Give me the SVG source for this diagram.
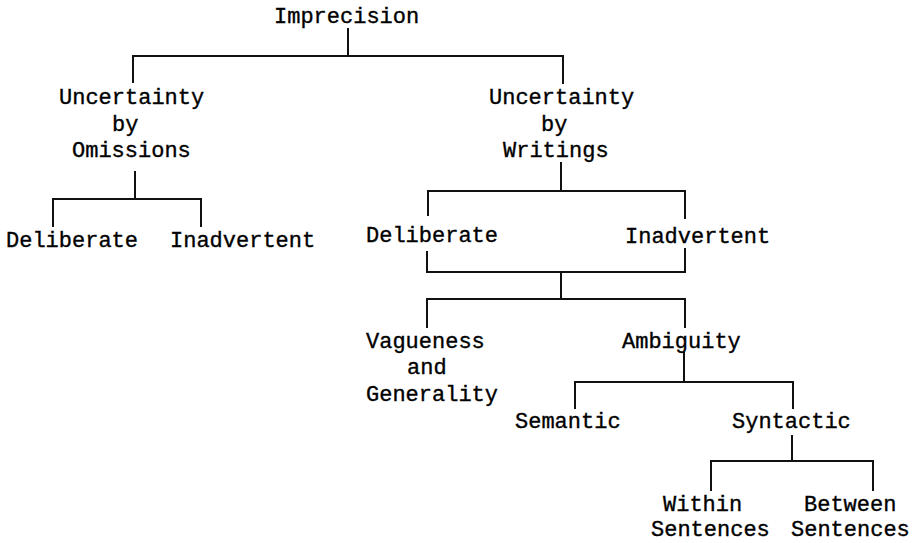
<svg xmlns="http://www.w3.org/2000/svg" width="920" height="543" viewBox="0 0 920 543">
<style>
text{font-family:"Liberation Mono","Courier New",monospace;font-size:22px;fill:#000;stroke:#000;stroke-width:0.35}
.c path{fill:none;stroke:#111;stroke-width:2;stroke-linecap:square}
</style>
<rect width="920" height="543" fill="#fff"/>
<g class="c" id="connectors">
<path d="M348,29 V56 M133,82 V56 H563 V83"/>
<path d="M135,172 V199 M53,226 V199 H201 V226"/>
<path d="M561,163 V191 M428,215 V191 H685 V218"/>
<path d="M427,252 V272 H685 V249"/>
<path d="M561,272 V299 M427,327 V299 H685 V327"/>
<path d="M684,353 V382 M575,408 V382 H793 V408"/>
<path d="M792,436 V461 M711,490 V461 H873 V490"/>
</g>
<g id="imprecision"><text x="274" y="23">Imprecision</text></g>
<g id="omissions"><text x="59" y="104">Uncertainty</text><text x="112" y="131">by</text><text x="72" y="157">Omissions</text></g>
<g id="writings"><text x="489" y="104">Uncertainty</text><text x="541" y="131">by</text><text x="503" y="157">Writings</text></g>
<g id="om-deliberate"><text x="6" y="247">Deliberate</text></g>
<g id="om-inadvertent"><text x="170" y="247">Inadvertent</text></g>
<g id="wr-deliberate"><text x="366" y="242">Deliberate</text></g>
<g id="wr-inadvertent"><text x="625" y="243">Inadvertent</text></g>
<g id="vagueness"><text x="366" y="348">Vagueness</text><text x="407" y="374">and</text><text x="366" y="401">Generality</text></g>
<g id="ambiguity"><text x="622" y="348">Ambiguity</text></g>
<g id="semantic"><text x="515" y="428">Semantic</text></g>
<g id="syntactic"><text x="732" y="428">Syntactic</text></g>
<g id="within"><text x="663" y="511">Within</text><text x="651" y="536">Sentences</text></g>
<g id="between"><text x="804" y="511">Between</text><text x="791" y="536">Sentences</text></g>
</svg>
